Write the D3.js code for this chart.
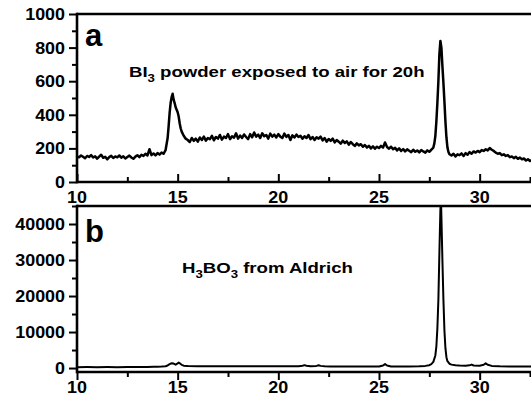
<!DOCTYPE html>
<html><head><meta charset="utf-8">
<script src="https://cdn.jsdelivr.net/npm/d3@7"></script>
<style>
html,body{margin:0;padding:0;background:#fff;}
svg{display:block;}
text{font-family:Arial,"Liberation Sans",sans-serif;font-weight:bold;fill:#000;}
</style></head>
<body>
<svg id="chart" width="531" height="402"></svg>
<script>
// ---- data ----
const xTicks = [10, 15, 20, 25, 30];
const xMinorTicks = [12.5, 17.5, 22.5, 27.5, 32.5];
const topYTicks = [0, 200, 400, 600, 800, 1000];
const botYTicks = [0, 10000, 20000, 30000, 40000];
const topLabel = "a";
const botLabel = "b";

const topTheta = [10.0,10.1,10.2,10.3,10.4,10.5,10.6,10.7,10.8,10.9,11.0,11.1,11.2,11.3,11.4,11.5,11.6,11.7,11.8,11.9,
12.0,12.1,12.2,12.3,12.4,12.5,12.6,12.7,12.8,12.9,13.0,13.1,13.2,13.3,13.4,13.5,13.6,13.7,13.8,13.9,
14.0,14.1,14.2,14.3,14.4,14.5,14.55,14.6,14.65,14.7,14.75,14.8,14.85,14.9,14.95,15.0,15.05,15.1,15.15,15.2,
15.3,15.4,15.5,15.6,15.7,15.8,15.9,16.0,16.1,16.2,16.3,16.4,16.5,16.6,16.7,16.8,16.9,17.0,17.1,17.2,
17.3,17.4,17.5,17.6,17.7,17.8,17.9,18.0,18.1,18.2,18.3,18.4,18.5,18.6,18.7,18.8,18.9,19.0,19.1,19.2,
19.3,19.4,19.5,19.6,19.7,19.8,19.9,20.0,20.1,20.2,20.3,20.4,20.5,20.6,20.7,20.8,20.9,21.0,21.1,21.2,
21.3,21.4,21.5,21.6,21.7,21.8,21.9,22.0,22.1,22.2,22.3,22.4,22.5,22.6,22.7,22.8,22.9,23.0,23.1,23.2,
23.3,23.4,23.5,23.6,23.7,23.8,23.9,24.0,24.1,24.2,24.3,24.4,24.5,24.6,24.7,24.8,24.9,25.0,25.1,25.2,
25.3,25.4,25.5,25.6,25.7,25.8,25.9,26.0,26.1,26.2,26.3,26.4,26.5,26.6,26.7,26.8,26.9,27.0,27.1,27.2,
27.3,27.4,27.5,27.6,27.7,27.75,27.8,27.85,27.9,27.95,28.0,28.05,28.1,28.15,28.2,28.25,28.3,28.35,28.4,28.45,
28.5,28.6,28.7,28.8,28.9,29.0,29.1,29.2,29.3,29.4,29.5,29.6,29.7,29.8,29.9,30.0,30.1,30.2,30.3,30.4,
30.5,30.6,30.7,30.8,30.9,31.0,31.1,31.2,31.3,31.4,31.5,31.6,31.7,31.8,31.9,32.0,32.1,32.2,32.3,32.4,
32.5,32.6];
const topIntensity = [152,147,158,150,141,155,149,160,146,153,139,151,162,144,150,135,148,156,143,152,
147,158,145,153,140,149,157,146,138,151,159,148,162,155,168,158,195,160,170,158,
172,163,175,168,190,260,330,410,470,505,525,490,470,445,430,415,390,350,320,300,
275,258,250,238,262,245,258,240,265,250,270,246,262,255,275,248,268,258,280,252,
270,262,285,255,272,264,290,258,276,262,283,268,255,285,266,295,270,282,262,290,
272,280,258,288,270,282,265,285,270,262,288,268,280,250,278,265,282,268,275,258,
272,262,280,255,268,250,266,258,270,248,262,240,256,245,258,236,250,240,228,246,
232,242,222,238,225,215,230,218,225,210,220,205,215,200,212,198,210,202,215,205,
235,208,198,210,195,203,188,200,185,196,182,194,186,178,192,180,188,176,190,182,
175,188,180,192,205,230,275,360,470,600,760,840,800,690,590,480,360,265,205,178,
165,158,168,152,165,160,170,155,172,162,178,168,182,175,185,178,190,185,195,188,
202,192,185,175,168,172,160,165,155,160,148,152,142,150,138,145,135,140,128,135,
125,132];

const botTheta = [10.0,10.5,11.0,11.5,12.0,12.5,13.0,13.5,13.8,14.0,14.2,14.4,14.5,14.6,14.7,14.8,14.9,15.0,15.05,15.1,
15.2,15.3,15.5,16.0,16.5,17.0,17.5,18.0,18.5,19.0,19.5,20.0,20.5,21.0,21.2,21.3,21.4,21.6,21.9,22.0,
22.1,22.3,22.6,23.0,23.5,24.0,24.5,25.0,25.2,25.3,25.4,25.6,26.0,26.5,27.0,27.3,27.5,27.6,27.7,27.8,
27.85,27.9,27.95,28.0,28.05,28.08,28.1,28.15,28.2,28.25,28.3,28.35,28.4,28.5,28.6,28.8,29.0,29.3,29.5,29.6,
29.7,30.0,30.2,30.3,30.4,30.6,31.0,31.5,32.0,32.6];
const botIntensity = [250,260,240,270,250,260,280,300,350,380,420,500,700,1100,1350,1250,950,1300,1500,1350,
900,650,550,500,480,520,480,500,520,490,510,500,490,520,650,800,650,520,600,750,
600,480,450,430,420,410,420,430,700,1100,700,450,430,450,500,600,800,1100,1700,3500,
6000,11000,19000,32000,44000,46500,42000,30000,19000,10500,5500,3000,1900,1200,950,800,700,650,750,950,
700,650,900,1300,900,600,500,450,420,400];

const topText = ["BI", "3", " powder exposed to air for 20h"];
const botText = ["H", "3", "BO", "3", " from Aldrich"];

// ---- drawing ----
const svg = d3.select("#chart");
const x = d3.scaleLinear().domain([10, 32.6]).range([77, 532]);
const yTop = d3.scaleLinear().domain([0, 1000]).range([182, 14]);
const yBot = d3.scaleLinear().domain([-1100, 45000]).range([372, 206]);
const LBL_SX = 1.12;

const defs = svg.append("defs");
defs.append("clipPath").attr("id","clipTop").append("rect").attr("x",77).attr("y",14).attr("width",460).attr("height",168);
defs.append("clipPath").attr("id","clipBot").append("rect").attr("x",77).attr("y",206).attr("width",460).attr("height",166);

function panel(y, theta, vals, yticks, minorStep, clipId, xTickInward, lw, topY, botY) {
  const g = svg.append("g");
  const line = d3.line().x((d,i)=>x(theta[i])).y(d=>y(d));
  g.append("path").datum(vals).attr("d", line).attr("fill","none").attr("stroke","#000")
    .attr("stroke-width", lw).attr("stroke-linejoin","round").attr("clip-path", `url(#${clipId})`);

  // y axis ticks
  const gy = g.append("g").attr("transform","translate(77,0)").call(d3.axisLeft(y).tickValues(yticks).tickSize(8).tickFormat(""));
  gy.select(".domain").remove();
  gy.selectAll(".tick line").attr("stroke","#000").attr("stroke-width",2);
  const minors = d3.range(0, y.domain()[1] + 1, minorStep).filter(v => !yticks.includes(v));
  const gym = g.append("g").attr("transform","translate(77,0)").call(d3.axisLeft(y).tickValues(minors).tickSize(5).tickFormat(""));
  gym.select(".domain").remove();
  gym.selectAll(".tick line").attr("stroke","#000").attr("stroke-width",2);
  // y labels
  g.selectAll(".yl").data(yticks).enter().append("text")
    .attr("transform", d => `translate(65,${y(d) + 6}) scale(${LBL_SX},1)`)
    .attr("text-anchor","end").style("font-size","16px").text(d => d);

  // x axis ticks
  const mk = () => xTickInward ? d3.axisTop(x) : d3.axisBottom(x);
  const gx = g.append("g").attr("transform",`translate(0,${botY})`).call(mk().tickValues(xTicks).tickSize(8).tickFormat(""));
  gx.select(".domain").remove();
  gx.selectAll(".tick line").attr("stroke","#000").attr("stroke-width",2);
  const gxm = g.append("g").attr("transform",`translate(0,${botY})`).call(mk().tickValues(xMinorTicks).tickSize(5).tickFormat(""));
  gxm.select(".domain").remove();
  gxm.selectAll(".tick line").attr("stroke","#000").attr("stroke-width",2);
  // x tick labels
  g.selectAll(".xl").data(xTicks).enter().append("text")
    .attr("transform", d => `translate(${x(d)},${botY + 21}) scale(${LBL_SX},1)`)
    .attr("text-anchor","middle").style("font-size","16px").text(d=>d);

  // frame lines
  g.append("line").attr("x1",77).attr("x2",531).attr("y1",botY).attr("y2",botY).attr("stroke","#000").attr("stroke-width",2.6);
  g.append("line").attr("x1",77).attr("x2",531).attr("y1",topY).attr("y2",topY).attr("stroke","#000").attr("stroke-width",2.6);
  g.append("line").attr("x1",77).attr("x2",77).attr("y1",topY-1.3).attr("y2",botY+1.3).attr("stroke","#000").attr("stroke-width",2.6);
  return g;
}

panel(yTop, topTheta, topIntensity, topYTicks, 100, "clipTop", true, 2.5, 14, 182);
panel(yBot, botTheta, botIntensity, botYTicks, 5000, "clipBot", false, 2, 206, 372);

// panel letters
svg.append("text").attr("x",85).attr("y",46).style("font-size","31px").text(topLabel);
svg.append("text").attr("x",85).attr("y",242).style("font-size","31px").text(botLabel);

// annotations with subscripts
function annot(parts, xPos, yPos) {
  const t = svg.append("text").attr("transform", `translate(${xPos},${yPos}) scale(1.2,1)`).style("font-size","15.5px");
  parts.forEach((p, i) => {
    const isSub = /^\d$/.test(p);
    const s = t.append("tspan").text(p);
    if (isSub) s.style("font-size","11px").attr("dy", 5);
    else if (i > 0 && /^\d$/.test(parts[i-1])) s.attr("dy", -5);
  });
}
annot(topText, 129, 77);
annot(botText, 182, 273);
</script>
</body></html>
